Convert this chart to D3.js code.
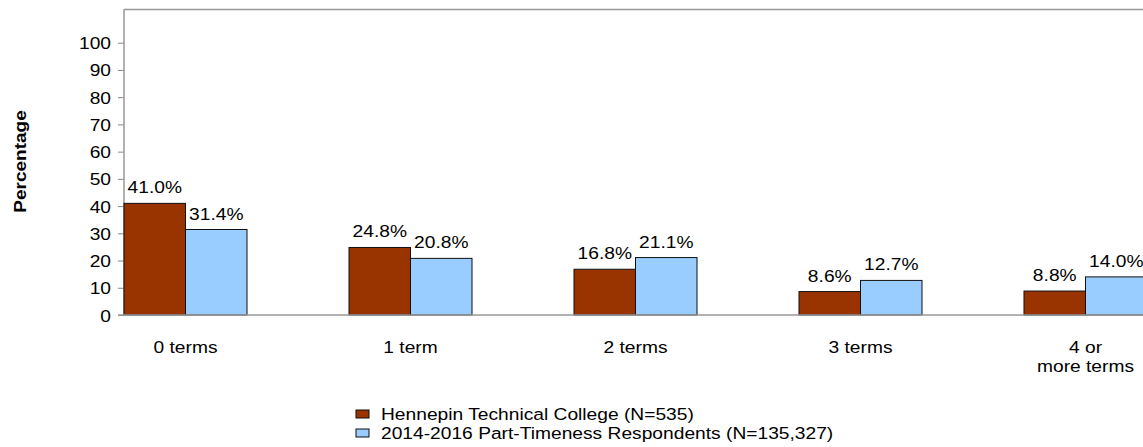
<!DOCTYPE html>
<html>
<head>
<meta charset="utf-8">
<script src="https://cdn.jsdelivr.net/npm/d3@7"></script>
<style>
html, body { margin: 0; padding: 0; background: #fff; }
svg { display: block; }
text { font-family: "Liberation Sans", Arial, sans-serif; fill: #000; }
</style>
</head>
<body>
<svg id="chart" width="1143" height="447"></svg>
<script>
const categories = ["0 terms", "1 term", "2 terms", "3 terms", "4 or\nmore terms"];
const seriesNames = ["Hennepin Technical College (N=535)", "2014-2016 Part-Timeness Respondents (N=135,327)"];
const collegeValues = [41.0, 24.8, 16.8, 8.6, 8.8];
const respondentValues = [31.4, 20.8, 21.1, 12.7, 14.0];
const yTicks = [0, 10, 20, 30, 40, 50, 60, 70, 80, 90, 100];
const colors = ["#993300", "#99CCFF"];

(function () {
const svg = d3.select("#chart");
const mLeft = 124, mRight = 1147, mTop = 9.5, mBottom = 315;
const FS = "17px", SX = 1.13;

function label(parent, x, y, txt, anchor) {
  return parent.append("text")
    .attr("transform", `translate(${x},${y}) scale(${SX},1)`)
    .attr("text-anchor", anchor || "middle").style("font-size", FS).text(txt);
}

const y = d3.scaleLinear().domain([0, 112.2]).range([mBottom, mTop]);
const x0 = d3.scaleBand().domain(categories).range([mLeft, mRight]).paddingInner(0.4533).paddingOuter(0);
const x1 = d3.scaleBand().domain([0, 1]).range([0, x0.bandwidth()]);

svg.append("line").attr("x1", mLeft).attr("x2", 1143).attr("y1", mTop).attr("y2", mTop)
  .attr("stroke", "#999").attr("stroke-width", 1.5);

const yAxis = d3.axisLeft(y).tickValues(yTicks).tickSize(6).tickPadding(6).tickFormat(d3.format("d"));
const ya = svg.append("g").attr("transform", `translate(${mLeft},0)`).call(yAxis);
ya.select(".domain").remove();
ya.selectAll(".tick line").attr("stroke", "#888");
ya.selectAll(".tick text")
  .attr("x", 0).attr("dy", null)
  .attr("transform", `translate(-13,6) scale(${SX},1)`)
  .style("font-size", FS).attr("fill", "#000")
  .style("font-family", "Liberation Sans, Arial, sans-serif");
svg.append("line").attr("x1", mLeft).attr("x2", mLeft).attr("y1", mTop).attr("y2", mBottom)
  .attr("stroke", "#999").attr("stroke-width", 1.5);

svg.append("text").attr("transform", `translate(26,161.5) rotate(-90) scale(1.19,1)`)
  .attr("text-anchor", "middle").style("font-size", "16px").style("font-weight", "bold")
  .text("Percentage");

const data = categories.map((c, i) => ({ c, vals: [collegeValues[i], respondentValues[i]] }));
const groups = svg.append("g").selectAll("g").data(data).join("g")
  .attr("transform", d => `translate(${x0(d.c)},0)`);
groups.selectAll("rect").data(d => d.vals).join("rect")
  .attr("x", (v, j) => x1(j)).attr("width", x1.bandwidth())
  .attr("y", v => y(v)).attr("height", v => y(0) - y(v))
  .attr("fill", (v, j) => colors[j]).attr("stroke", "#111").attr("stroke-width", 1);
groups.each(function (d) {
  const g = d3.select(this);
  d.vals.forEach((v, j) => label(g, x1(j) + x1.bandwidth() / 2, y(v) - 10, v.toFixed(1) + "%"));
});

svg.append("line").attr("x1", mLeft - 6).attr("x2", 1143).attr("y1", mBottom).attr("y2", mBottom)
  .attr("stroke", "#999").attr("stroke-width", 1.5);

const xa = svg.append("g");
categories.forEach(c => {
  const cx = x0(c) + x0.bandwidth() / 2;
  c.split("\n").forEach((ln, k) => label(xa, cx, 353 + k * 19, ln));
});

const lg = svg.append("g").attr("transform", "translate(356,0)");
seriesNames.forEach((n, i) => {
  lg.append("rect").attr("x", 0).attr("y", 410 + i * 19).attr("width", 13).attr("height", 8)
    .attr("fill", colors[i]).attr("stroke", "#111").attr("stroke-width", 1);
  label(lg, 25, 419.5 + i * 19, n, "start");
});
})();
</script>
</body>
</html>
